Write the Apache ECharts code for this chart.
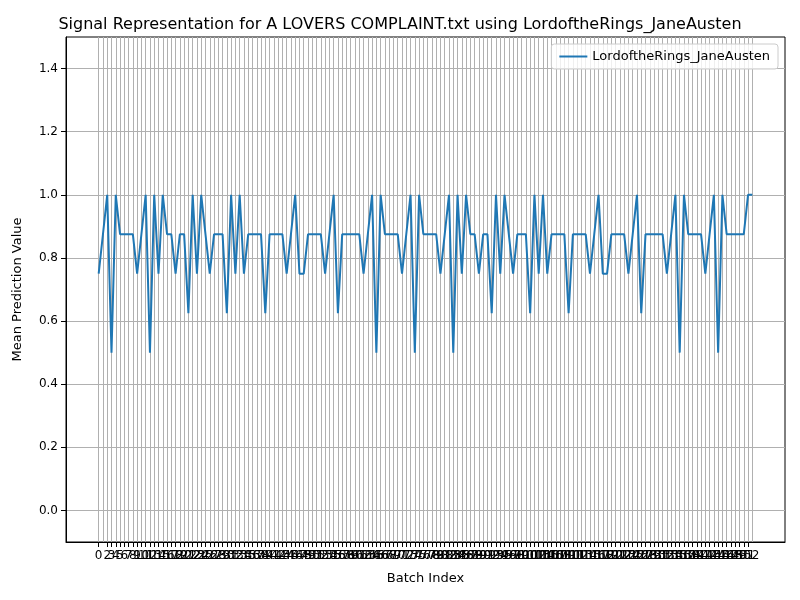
<!DOCTYPE html>
<html>
<head>
<meta charset="utf-8">
<script src="https://cdn.jsdelivr.net/npm/echarts@6/dist/echarts.min.js"></script>
<style>html,body{margin:0;padding:0;background:#fff}#chart{width:800px;height:600px}</style>
</head>
<body>
<div id="chart"></div>
<script>
// mean prediction per batch
var values = [
  0.75, 0.875, 1, 0.5, 1, 0.875, 0.875, 0.875, 0.875, 0.75,
  0.875, 1, 0.5, 1, 0.75, 1, 0.875, 0.875, 0.75, 0.875,
  0.875, 0.625, 1, 0.75, 1, 0.875, 0.75, 0.875, 0.875, 0.875,
  0.625, 1, 0.75, 1, 0.75, 0.875, 0.875, 0.875, 0.875, 0.625,
  0.875, 0.875, 0.875, 0.875, 0.75, 0.875, 1, 0.75, 0.75, 0.875,
  0.875, 0.875, 0.875, 0.75, 0.875, 1, 0.625, 0.875, 0.875, 0.875,
  0.875, 0.875, 0.75, 0.875, 1, 0.5, 1, 0.875, 0.875, 0.875,
  0.875, 0.75, 0.875, 1, 0.5, 1, 0.875, 0.875, 0.875, 0.875,
  0.75, 0.875, 1, 0.5, 1, 0.75, 1, 0.875, 0.875, 0.75,
  0.875, 0.875, 0.625, 1, 0.75, 1, 0.875, 0.75, 0.875, 0.875,
  0.875, 0.625, 1, 0.75, 1, 0.75, 0.875, 0.875, 0.875, 0.875,
  0.625, 0.875, 0.875, 0.875, 0.875, 0.75, 0.875, 1, 0.75, 0.75,
  0.875, 0.875, 0.875, 0.875, 0.75, 0.875, 1, 0.625, 0.875, 0.875,
  0.875, 0.875, 0.875, 0.75, 0.875, 1, 0.5, 1, 0.875, 0.875,
  0.875, 0.875, 0.75, 0.875, 1, 0.5, 1, 0.875, 0.875, 0.875,
  0.875, 0.875, 1, 1
];
var xTicks = values.map(function (v, i) { return i; });
var yTicks = [0, 0.2, 0.4, 0.6, 0.8, 1.0, 1.2, 1.4];
var seriesName = 'LordoftheRings_JaneAusten';

var chart = echarts.init(document.getElementById('chart'));
var txt = { color: '#000', fontFamily: 'DejaVu Sans' };
chart.setOption({
  backgroundColor: '#fff',
  animation: false,
  title: {
    text: 'Signal Representation for A LOVERS COMPLAINT.txt using LordoftheRings_JaneAusten',
    left: 'center', top: 12,
    textStyle: Object.assign({ fontSize: 16, fontWeight: 'normal' }, txt)
  },
  legend: {
    right: 22, top: 44,
    orient: 'vertical',
    itemWidth: 28, itemHeight: 2,
    icon: 'rect',
    backgroundColor: 'rgba(255,255,255,0.8)',
    borderColor: '#ccc', borderWidth: 1, borderRadius: 3,
    padding: [6, 8],
    textStyle: Object.assign({ fontSize: 13 }, txt),
    data: [seriesName]
  },
  grid: { left: 66, right: 15, top: 37, bottom: 58, show: true, borderColor: '#000', borderWidth: 1 },
  xAxis: {
    type: 'value',
    min: -7.65, max: 160.65,
    name: 'Batch Index', nameLocation: 'middle', nameGap: 30,
    nameTextStyle: Object.assign({ fontSize: 13 }, txt),
    axisLine: { onZero: false, lineStyle: { color: '#000' } },
    axisTick: { customValues: xTicks, length: 5, lineStyle: { color: '#000' } },
    axisLabel: { customValues: xTicks, fontSize: 12, hideOverlap: false, showMinLabel: true, color: '#000', fontFamily: 'DejaVu Sans' },
    splitLine: { show: true, lineStyle: { color: '#b0b0b0', width: 1 } }
  },
  yAxis: {
    type: 'value',
    min: -0.1, max: 1.5,
    name: 'Mean Prediction Value', nameLocation: 'middle', nameGap: 42,
    nameTextStyle: Object.assign({ fontSize: 13 }, txt),
    axisLine: { show: true, onZero: false, lineStyle: { color: '#000' } },
    axisTick: { show: true, customValues: yTicks, length: 5, lineStyle: { color: '#000' } },
    axisLabel: { customValues: yTicks, fontSize: 12, color: '#000', fontFamily: 'DejaVu Sans',
      formatter: function (v) { return v.toFixed(1); } },
    splitLine: { show: true, lineStyle: { color: '#b0b0b0', width: 1 } }
  },
  series: [{
    name: seriesName,
    type: 'line',
    data: values.map(function (v, i) { return [i, v]; }),
    showSymbol: false,
    lineStyle: { color: '#1f77b4', width: 2 },
    itemStyle: { color: '#1f77b4' }
  }]
});
</script>
</body>
</html>
